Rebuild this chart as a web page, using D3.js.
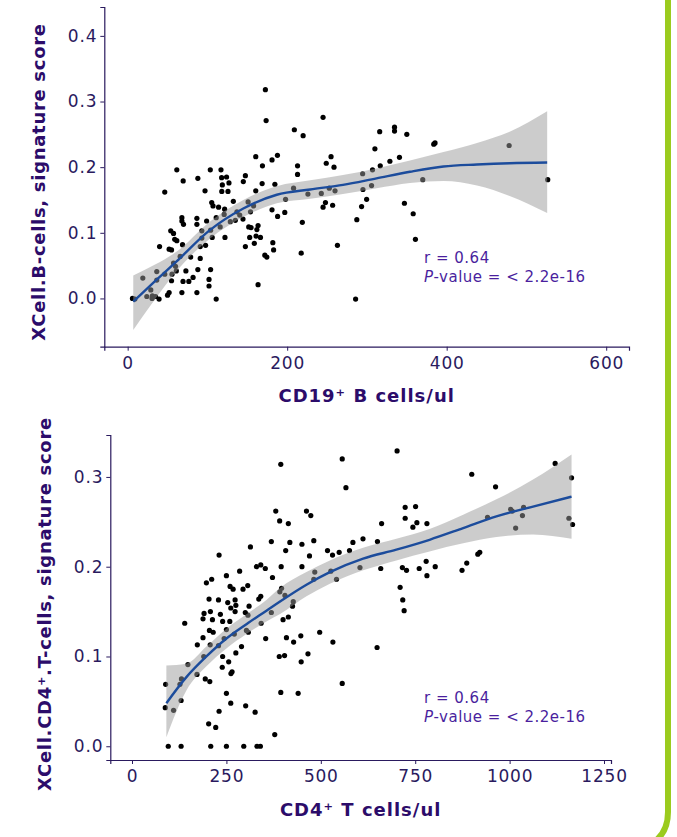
<!DOCTYPE html>
<html>
<head>
<meta charset="utf-8">
<script src="https://cdn.jsdelivr.net/npm/d3@7"></script>
<style>
  body { margin: 0; background: #fff; }
  svg text { font-family: "DejaVu Sans", Verdana, sans-serif; }
</style>
</head>
<body>
<div id="chart"></div>
<script>
// ---- top panel: CD19+ B cells vs xCell B-cells score ----
const cd19X = [172.7,173.6,209,220,245,61.6,103.6,117,69.6,88,46.5,97,160.6,187.8,181,169,213,213,255,249,258.7,
  117.8,124,127,147.6,145,160.6,168.6,184.6,118.7,125.8,118,105.4,107,114,132.5,121.6,151,158,198,208,226,242.8,245,248,257,
  252.8,260,181,188,197,219,217.6,263,163.5,162,154,144.6,140.5,137,135,128.7,121,116,154.7,153,161,147.6,158.8,172,174.5,
  182,183,163.5,122,106,104,99,93,86.8,86.8,91,97.7,93,102,102,104,91,79,88,82,76.7,69.4,73,61,68,86.8,111,68,68,70,54,
  57.5,59,61.6,68.8,65.8,52,55,40,57.5,60,46.5,36.5,36.5,55.6,55,52,50,29,31,35,39.4,24,30.6,19,6,9,111,151.8,166.5,
  316,334.6,334.6,350,310,383.8,385.4,478.3,340.8,328.8,316.7,307,294.6,295,305.8,370,526.7,299.6,293.3,287.3,347,358,360.8,285.8];
const bScore = [0.318,0.271,0.257,0.248,0.276,0.196,0.196,0.196,0.179,0.183,0.162,0.164,0.216,0.218,0.211,0.202,0.202,0.189,0.216,0.206,0.2,
  0.184,0.185,0.176,0.187,0.178,0.164,0.175,0.174,0.173,0.163,0.163,0.146,0.141,0.139,0.148,0.136,0.147,0.141,0.151,0.168,0.159,0.16,0.139,0.146,0.142,
  0.168,0.164,0.135,0.125,0.131,0.116,0.069,0.081,0.111,0.105,0.132,0.121,0.127,0.132,0.119,0.117,0.128,0.109,0.108,0.093,0.095,0.079,0.084,0.066,0.063,
  0.085,0.074,0.021,0.093,0.093,0.104,0.118,0.103,0.122,0.113,0.079,0.081,0.092,0.029,0.019,0.044,0.061,0.063,0.044,0.032,0.026,0.026,0.042,0.042,0.009,0.009,-0.001,0.118,0.123,0.113,0.103,
  0.099,0.09,0.088,0.082,0.064,0.075,0.074,0.079,0.054,0.049,0.037,0.041,0.028,0.037,0.027,0.009,0.005,0.013,0.004,0.003,-0.001,0.003,0,0.031,0,-0.001,0.123,0.109,0.093,
  0.254,0.261,0.255,0.25,0.228,0.235,0.237,0.233,0.215,0.209,0.202,0.196,0.19,0.166,0.172,0.181,0.181,0.151,0.14,0.12,0.145,0.129,0.09,-0.001];
const bFitX  = [7,35,61,103,145,187,229,270,312,354,396,438,479,526];
const bFitY  = [-0.005,0.027,0.056,0.104,0.137,0.158,0.166,0.173,0.183,0.193,0.201,0.204,0.206,0.207];
const bFitLo = [-0.048,0.0,0.041,0.091,0.124,0.145,0.152,0.159,0.168,0.176,0.179,0.172,0.156,0.13];
const bFitHi = [0.035,0.052,0.071,0.117,0.150,0.171,0.18,0.188,0.198,0.21,0.223,0.237,0.254,0.285];
const bXTicks = [0, 200, 400, 600];
const bYTicks = [0, 0.1, 0.2, 0.3, 0.4];

// ---- bottom panel: CD4+ T cells vs xCell CD4+ T-cells score ----
const cd4X = [394,380.7,391,414,462,473.5,230.6,313.6,369,418,407,450,481.4,470,450,395,329.5,341,353,484,481.4,517.7,531,541.5,526.5,548.6,
  197,211,250,259.7,285,267.7,294,306.5,372,391.5,396,405,427,204,229,273,253.5,261.6,275,273,335.7,341,310,300,307,188,190.8,207.6,213,234,240,259,
  205,215,139.6,250,271,303,308,342,369,400,414,425,173,188,207,229,244,354,409,428,447,497,532,190,240,290,275,404,390,466,448,148,172,194,206,
  239,256,265,262,131,127,89,88,110,130,250,261.5,301,326,230.6,203,221.7,394,440,378,96,130,208.5,250,296,331,340,
  556.7,566.5,702,899.8,962.8,1120.6,1164,723.4,751,723.4,754.4,743.8,781,661,611.7,650,585,576,603.7,658.7,716,727,760.6,779,803,781,874,886.5,
  915.8,921,941.5,1002.7,1007,1037,1034,1016,1157,1166.7,710,717,720.7,649,556.7];
const tScore = [0.314,0.262,0.251,0.248,0.262,0.257,0.213,0.222,0.228,0.227,0.218,0.225,0.229,0.212,0.2,0.2,0.2,0.202,0.198,0.194,0.186,0.218,0.213,0.186,0.195,0.216,
  0.182,0.186,0.19,0.178,0.195,0.175,0.175,0.179,0.188,0.172,0.176,0.168,0.161,0.164,0.163,0.163,0.16,0.154,0.157,0.15,0.164,0.167,0.156,0.149,0.146,0.142,0.148,0.15,0.141,0.147,0.139,0.139,
  0.129,0.127,0.137,0.13,0.125,0.129,0.127,0.137,0.149,0.141,0.144,0.156,0.113,0.121,0.113,0.112,0.12,0.12,0.121,0.116,0.123,0.127,0.116,0.1,0.1,0.111,0.104,0.101,0.1,0.103,0.094,0.091,0.08,0.075,0.072,
  0.088,0.094,0.083,0.081,0.075,0.069,0.069,0.043,0.04,0.051,0.059,0.048,0.045,0.038,0.039,0.025,0.021,0.06,0.059,0.013,0,0,0,0,0,0,0,
  0.32,0.288,0.329,0.303,0.289,0.315,0.299,0.266,0.267,0.254,0.249,0.244,0.248,0.248,0.231,0.228,0.227,0.218,0.199,0.198,0.199,0.196,0.198,0.206,0.2,0.19,0.196,0.204,
  0.214,0.216,0.255,0.264,0.262,0.266,0.257,0.243,0.254,0.247,0.177,0.163,0.151,0.11,0.07];
const tFitX  = [91,144,197,250,303,356,391,462,524,612,700,788,877,965,1062,1164];
const tFitY  = [0.048,0.077,0.1,0.12,0.136,0.151,0.161,0.18,0.194,0.209,0.219,0.23,0.243,0.256,0.267,0.278];
const tFitLo = [0.01,0.062,0.089,0.109,0.125,0.139,0.147,0.167,0.181,0.196,0.207,0.217,0.226,0.233,0.236,0.231];
const tFitHi = [0.09,0.092,0.111,0.131,0.147,0.163,0.176,0.194,0.207,0.221,0.231,0.242,0.258,0.275,0.297,0.325];
const tXTicks = [0, 250, 500, 750, 1000, 1250];
const tYTicks = [0, 0.1, 0.2, 0.3];

const W = 677, H = 837;
const axisCol = "#2a1a5e", titleCol = "#2c0c6a", noteCol = "#4a1f9e";

const svg = d3.select("#chart").append("svg")
  .attr("width", W).attr("height", H);

// green frame edge on the right
svg.append("path")
  .attr("d", "M668,0 L668,812 Q668,832 654,842")
  .attr("fill", "none")
  .attr("stroke", "#9bcb1e")
  .attr("stroke-width", 6);

function panel(o) {
  const x = d3.scaleLinear().domain(o.xDom).range(o.xRange);
  const y = d3.scaleLinear().domain(o.yDom).range(o.yRange);
  const g = svg.append("g");

  // points
  g.append("g").selectAll("circle")
    .data(o.xs.map((v, i) => [v, o.ys[i]]))
    .join("circle")
      .attr("cx", d => x(d[0]))
      .attr("cy", d => y(d[1]))
      .attr("r", 2.6)
      .attr("fill", "#000");

  // confidence band (drawn over the points, like geom_smooth)
  const fit = o.fitX.map((v, i) => ({x: v, y: o.fitY[i], lo: o.fitLo[i], hi: o.fitHi[i]}));
  g.append("path")
    .datum(fit)
    .attr("d", d3.area().curve(d3.curveMonotoneX)
      .x(d => x(d.x)).y0(d => y(d.lo)).y1(d => y(d.hi)))
    .attr("fill", "#999")
    .attr("fill-opacity", 0.5);

  g.append("path")
    .datum(fit)
    .attr("d", d3.line().curve(d3.curveMonotoneX).x(d => x(d.x)).y(d => y(d.y)))
    .attr("fill", "none")
    .attr("stroke", "#1c4c9c")
    .attr("stroke-width", 2.4);

  // axes
  const ax = g.append("g")
    .attr("transform", `translate(0,${o.yRange[0]})`)
    .call(d3.axisBottom(x).tickValues(o.xTicks).tickFormat(d3.format("d"))
      .tickSizeOuter(0).tickSize(4).tickPadding(6));
  const ay = g.append("g")
    .attr("transform", `translate(${o.xRange[0]},0)`)
    .call(d3.axisLeft(y).tickValues(o.yTicks).tickFormat(d3.format(".1f"))
      .tickSizeOuter(0).tickSize(4).tickPadding(3));
  [ax, ay].forEach(a => {
    a.select(".domain").attr("stroke", axisCol).attr("stroke-width", 1.2);
    a.selectAll(".tick line").attr("stroke", axisCol);
    a.selectAll(".tick text").attr("fill", axisCol).attr("font-size", 17)
      .attr("letter-spacing", 0.8)
      .style("font-family", '"DejaVu Sans", Verdana, sans-serif');
  });

  // axis titles
  g.append("text")
    .attr("x", (o.xRange[0] + o.xRange[1]) / 2)
    .attr("y", o.xTitleY)
    .attr("text-anchor", "middle")
    .attr("font-size", 18).attr("font-weight", "bold").attr("fill", titleCol)
    .attr("letter-spacing", 1)
    .text(o.xTitle);
  g.append("text")
    .attr("transform", `translate(${o.yTitleX},${o.yTitleMid}) rotate(-90)`)
    .attr("text-anchor", "middle")
    .attr("font-size", 18).attr("font-weight", "bold").attr("fill", titleCol)
    .attr("letter-spacing", 0.7)
    .text(o.yTitle);

  // correlation note
  const note = g.append("text").attr("font-size", 15).attr("fill", noteCol)
    .attr("letter-spacing", 0.5);
  note.append("tspan").attr("x", o.noteX).attr("y", o.noteY).text("r = 0.64");
  const p = note.append("tspan").attr("x", o.noteX).attr("y", o.noteY + 19);
  p.append("tspan").attr("font-style", "italic").text("P");
  p.append("tspan").text("-value = < 2.2e-16");
}

panel({
  xs: cd19X, ys: bScore, fitX: bFitX, fitY: bFitY, fitLo: bFitLo, fitHi: bFitHi,
  xDom: [-29.3, 628.6], xRange: [104.3, 629],
  yDom: [-0.0735, 0.444], yRange: [346.7, 7],
  xTicks: bXTicks, yTicks: bYTicks,
  xTitle: "CD19⁺ B cells/ul", xTitleY: 402,
  yTitle: "XCell.B-cells, signature score", yTitleX: 45, yTitleMid: 182,
  noteX: 424, noteY: 263
});

panel({
  xs: cd4X, ys: tScore, fitX: tFitX, fitY: tFitY, fitLo: tFitLo, fitHi: tFitHi,
  xDom: [-57.5, 1268.5], xRange: [110.3, 611],
  yDom: [-0.0153, 0.3467], yRange: [760, 435],
  xTicks: tXTicks, yTicks: tYTicks,
  xTitle: "CD4⁺ T cells/ul", xTitleY: 816,
  yTitle: "XCell.CD4⁺.T-cells, signature score", yTitleX: 51, yTitleMid: 604,
  noteX: 424, noteY: 703
});
</script>
</body>
</html>
